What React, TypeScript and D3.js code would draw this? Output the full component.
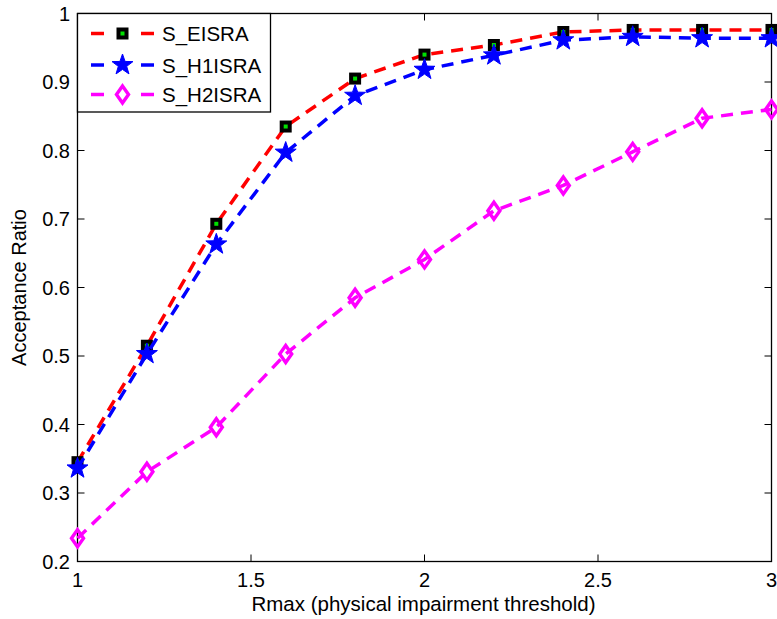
import React from "react";
import * as d3 from "d3";

const xValues = [1, 1.2, 1.4, 1.6, 1.8, 2.0, 2.2, 2.4, 2.6, 2.8, 3.0];
const eisra = [0.345, 0.515, 0.693, 0.835, 0.905, 0.940, 0.954, 0.973, 0.976, 0.976, 0.976];
const h1isra = [0.336, 0.503, 0.663, 0.797, 0.880, 0.918, 0.939, 0.961, 0.966, 0.964, 0.964];
const h2isra = [0.234, 0.331, 0.396, 0.503, 0.585, 0.641, 0.712, 0.749, 0.798, 0.847, 0.860];
const seriesNames = ["S_EISRA", "S_H1ISRA", "S_H2ISRA"];
const xTicks = [1, 1.5, 2, 2.5, 3];
const yTicks = [0.2, 0.3, 0.4, 0.5, 0.6, 0.7, 0.8, 0.9, 1];
const xLabel = "Rmax (physical impairment threshold)";
const yLabel = "Acceptance Ratio";

const W = 777, H = 619;
const L = 77.5, R = 771.5, T = 13.5, B = 561.5;
const FONT = "'Liberation Sans', Arial, Helvetica, sans-serif";

function starPath(cx: number, cy: number, ro: number, ri: number) {
  const pts: string[] = [];
  for (let i = 0; i < 10; i++) {
    const r = i % 2 === 0 ? ro : ri;
    const a = -Math.PI / 2 + (i * Math.PI) / 5;
    pts.push(`${(cx + r * Math.cos(a)).toFixed(2)},${(cy + r * Math.sin(a)).toFixed(2)}`);
  }
  return "M" + pts.join("L") + "Z";
}

function Marker({ kind, x, y }: { kind: number; x: number; y: number }) {
  if (kind === 0) {
    return (
      <g>
        <rect x={x - 6} y={y - 6} width={12} height={12} fill="#000" />
        <rect x={x - 2} y={y - 2} width={4} height={4} fill="#00e000" />
      </g>
    );
  }
  if (kind === 1) {
    return <path d={starPath(x, y, 11, 4.4)} fill="#0000ff" stroke="#0000ff" strokeWidth={1} />;
  }
  return (
    <path
      d={`M${x},${y - 8.5}L${x + 6},${y}L${x},${y + 8.5}L${x - 6},${y}Z`}
      fill="none"
      stroke="#ff00ff"
      strokeWidth={3.4}
    />
  );
}

export default function App() {
  const x = d3.scaleLinear().domain([1, 3]).range([L, R]);
  const y = d3.scaleLinear().domain([0.2, 1]).range([B, T]);
  const data = [eisra, h1isra, h2isra];
  const colors = ["#ff0000", "#0000ff", "#ff00ff"];
  const line = d3
    .line<number>()
    .x((_, i) => x(xValues[i]))
    .y((d) => y(d));
  const dash = "12,8";

  return (
    <svg
      width={W}
      height={H}
      style={{ position: "absolute", left: 0, top: 0, background: "#fff" }}
      fontFamily={FONT}
    >
      <rect x={0} y={0} width={W} height={H} fill="#fff" />
      <rect x={L} y={T} width={R - L} height={B - T} fill="none" stroke="#000" strokeWidth={1.3} />
      {xTicks.map((t) => (
        <g key={"xt" + t}>
          <line x1={x(t)} x2={x(t)} y1={B} y2={B - 7} stroke="#000" />
          <line x1={x(t)} x2={x(t)} y1={T} y2={T + 7} stroke="#000" />
          <text x={x(t)} y={587} textAnchor="middle" fontSize={20} fill="#000">
            {String(t)}
          </text>
        </g>
      ))}
      {yTicks.map((t) => (
        <g key={"yt" + t}>
          <line x1={L} x2={L + 7} y1={y(t)} y2={y(t)} stroke="#000" />
          <line x1={R} x2={R - 7} y1={y(t)} y2={y(t)} stroke="#000" />
          <text x={70} y={y(t) + 7} textAnchor="end" fontSize={20} fill="#000">
            {String(t)}
          </text>
        </g>
      ))}
      <text x={(L + R) / 2 - 1} y={611} textAnchor="middle" fontSize={20.5} fill="#000">
        {xLabel}
      </text>
      <text
        transform={`translate(26,${(T + B) / 2}) rotate(-90)`}
        textAnchor="middle"
        fontSize={20}
        fill="#000"
      >
        {yLabel}
      </text>
      {data.map((d, k) => (
        <g key={"s" + k}>
          <path
            d={line(d) || ""}
            fill="none"
            stroke={colors[k]}
            strokeWidth={3.5}
            strokeDasharray={dash}
          />
          {d.map((v, i) => (
            <Marker key={i} kind={k} x={x(xValues[i])} y={y(v)} />
          ))}
        </g>
      ))}
      <rect x={L} y={T} width={193} height={98.5} fill="#fff" stroke="#000" strokeWidth={1.3} />
      {seriesNames.map((n, k) => {
        const ly = [33.5, 65, 94.5][k];
        return (
          <g key={"l" + n}>
            <line x1={91} x2={104} y1={ly} y2={ly} stroke={colors[k]} strokeWidth={3.5} />
            <line x1={141} x2={154} y1={ly} y2={ly} stroke={colors[k]} strokeWidth={3.5} />
            <Marker kind={k} x={122.5} y={ly} />
            <text x={162} y={ly + 7.5} fontSize={20.5} fill="#000">
              {n}
            </text>
          </g>
        );
      })}
    </svg>
  );
}
